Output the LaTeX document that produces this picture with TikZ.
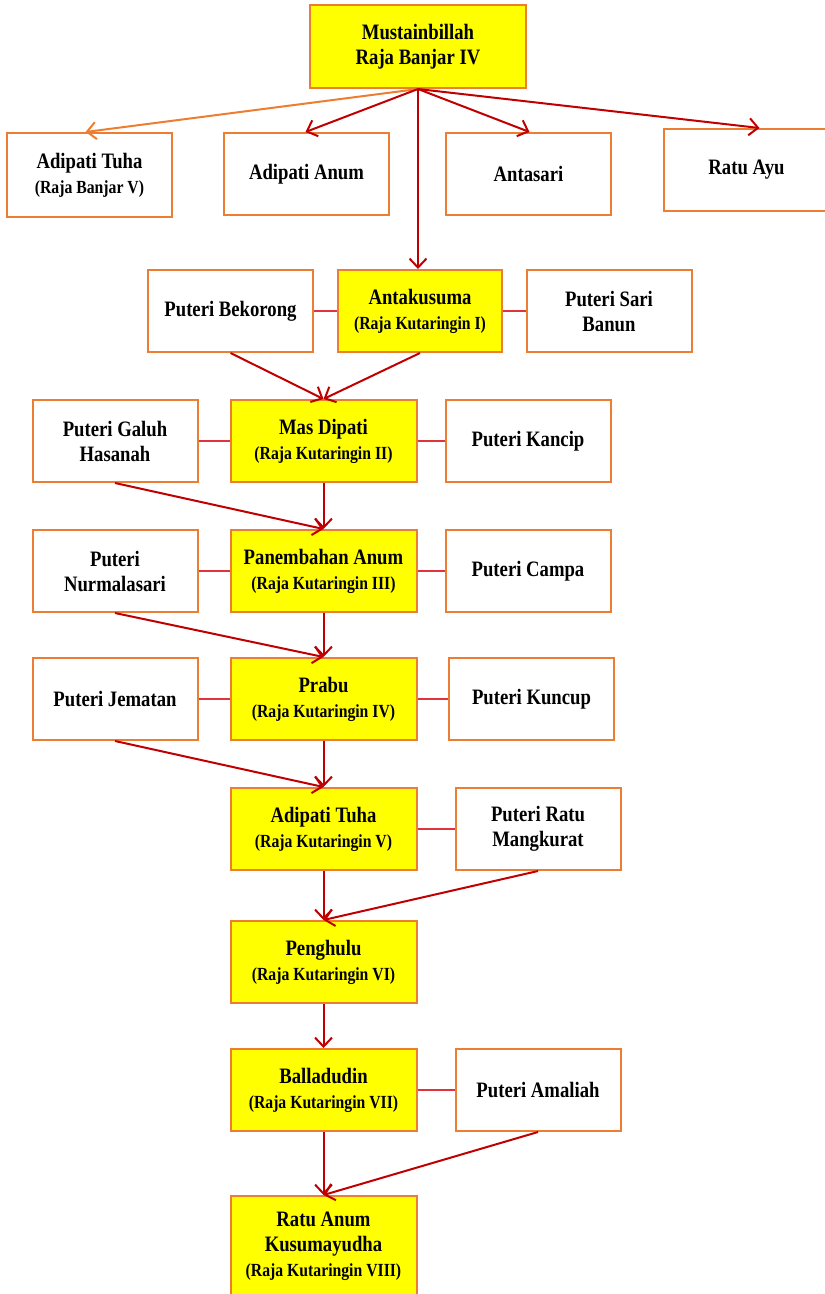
\documentclass[tikz,border=0pt]{standalone}
\usepackage{fontspec}
\setmainfont{Liberation Serif}[FakeStretch=0.85]
\usetikzlibrary{arrows.meta, positioning}
\definecolor{kotak}{RGB}{237,125,49}
\definecolor{panah}{RGB}{192,0,0}
\definecolor{garis}{RGB}{224,52,60}
\definecolor{kuning}{RGB}{255,255,0}
\newcommand{\hurufbesar}{\fontsize{22}{25}\selectfont\bfseries}
\newcommand{\hurufkecil}{\fontsize{18.5}{22}\selectfont\bfseries}
\tikzstyle{puteri} = [rectangle, 
minimum width=165pt, 
minimum height=82pt, 
align=center, 
draw=kotak, 
line width=2pt, 
fill=white, 
font=\hurufbesar]
\tikzstyle{raja} = [puteri, 
minimum width=186pt, 
fill=kuning]
\tikzstyle{arrow} = [draw=panah, line width=2pt, -{Straight Barb[length=9pt,width=17pt]}]
\tikzstyle{nikah} = [draw=garis, line width=1.5pt]

\begin{document}
\begin{tikzpicture}[x=1pt, y=1pt, node distance=130pt]
\useasboundingbox (0,0) rectangle (825,-1294);

\node (raja4) [raja, minimum width=216pt, minimum height=83pt] at (418,-46.5) {Mustainbillah\\Raja Banjar IV};

% Anak-anak Mustainbillah
\node (anak1) [puteri, minimum height=84pt] at (89.5,-175) {Adipati Tuha\\{\hurufkecil (Raja Banjar V)}};
\node (anak2) [puteri] at (306.5,-174) {Adipati Anum};
\node (anak3) [puteri] at (528.5,-174) {Antasari};
\node (anak4) [puteri] at (746.5,-170) {Ratu Ayu};

% Raja Kutaringin I - IV
\node (k1) [raja, minimum width=164pt] at (420,-311) {Antakusuma\\{\hurufkecil (Raja Kutaringin I)}};
\node (k1l) [puteri, left of=k1, xshift=-59.5pt] {Puteri Bekorong};
\node (k1r) [puteri, right of=k1, xshift=59pt] {Puteri Sari\\Banun};

\node (k2) [raja, below of=k1, xshift=-96.5pt] {Mas Dipati\\{\hurufkecil (Raja Kutaringin II)}};
\node (k2l) [puteri, left of=k2, xshift=-78.5pt] {Puteri Galuh\\Hasanah};
\node (k2r) [puteri, right of=k2, xshift=74.5pt] {Puteri Kancip};

\node (k3) [raja, below of=k2] {Panembahan Anum\\{\hurufkecil (Raja Kutaringin III)}};
\node (k3l) [puteri, left of=k3, xshift=-78.5pt] {Puteri\\Nurmalasari};
\node (k3r) [puteri, right of=k3, xshift=74.5pt] {Puteri Campa};

\node (k4) [raja, below of=k3, yshift=2pt] {Prabu\\{\hurufkecil (Raja Kutaringin IV)}};
\node (k4l) [puteri, left of=k4, xshift=-78.5pt] {Puteri Jematan};
\node (k4r) [puteri, right of=k4, xshift=78pt] {Puteri Kuncup};

% Raja Kutaringin V - VIII
\node (k5) [raja, below of=k4] {Adipati Tuha\\{\hurufkecil (Raja Kutaringin V)}};
\node (k5r) [puteri, right of=k5, xshift=84.5pt] {Puteri Ratu\\Mangkurat};

\node (k6) [raja, below of=k5, yshift=-3pt] {Penghulu\\{\hurufkecil (Raja Kutaringin VI)}};

\node (k7) [raja, below of=k6, yshift=2pt] {Balladudin\\{\hurufkecil (Raja Kutaringin VII)}};
\node (k7r) [puteri, right of=k7, xshift=84.5pt] {Puteri Amaliah};

\node (k8) [raja, below of=k7, yshift=-26pt, minimum height=100pt] {Ratu Anum\\Kusumayudha\\{\hurufkecil (Raja Kutaringin VIII)}};

\draw [arrow, draw=kotak] (raja4.south) -- ([xshift=-4pt]anak1.north);
\draw [arrow] (raja4.south) -- ([xshift=-1pt]anak2.north);
\draw [arrow] (raja4.south) -- ([xshift=1pt]anak3.north);
\draw [arrow] (raja4.south) -- ([xshift=13pt]anak4.north);
\draw [arrow] (raja4.south) -- (raja4.south |- k1.north);

\draw [nikah] (k1l) -- (k1);
\draw [nikah] (k1) -- (k1r);
\draw [nikah] (k2l) -- (k2);
\draw [nikah] (k2) -- (k2r);
\draw [nikah] (k3l) -- (k3);
\draw [nikah] (k3) -- (k3r);
\draw [nikah] (k4l) -- (k4);
\draw [nikah] (k4) -- (k4r);
\draw [nikah] (k5) -- (k5r);
\draw [nikah] (k7) -- (k7r);

\draw [arrow] (k1l.south) -- (k2.north);
\draw [arrow] (k1.south) -- (k2.north);
\draw [arrow] (k2l.south) -- (k3.north);
\draw [arrow] (k2.south) -- (k3.north);
\draw [arrow] (k3l.south) -- (k4.north);
\draw [arrow] (k3.south) -- (k4.north);
\draw [arrow] (k4l.south) -- (k5.north);
\draw [arrow] (k4.south) -- (k5.north);
\draw [arrow] (k5r.south) -- (k6.north);
\draw [arrow] (k5.south) -- (k6.north);
\draw [arrow] (k6.south) -- (k7.north);
\draw [arrow] (k7r.south) -- (k8.north);
\draw [arrow] (k7.south) -- (k8.north);

\end{tikzpicture}
\end{document}
